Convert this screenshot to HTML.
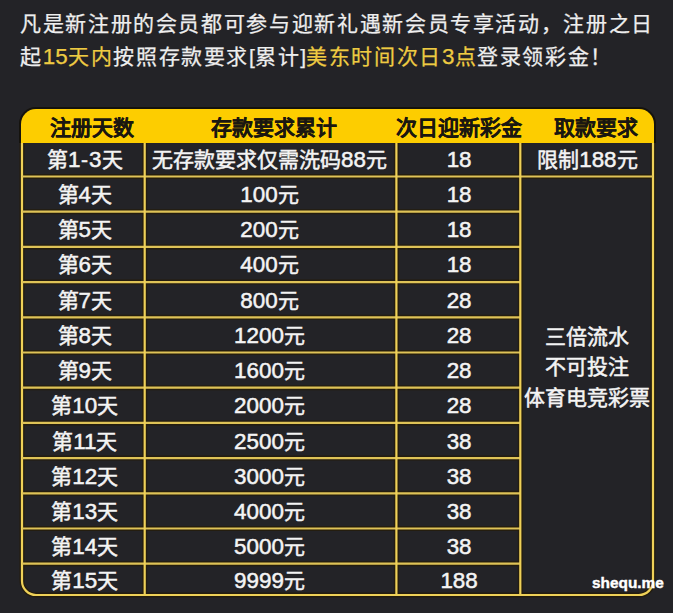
<!DOCTYPE html>
<html lang="zh-CN"><head><meta charset="utf-8">
<style>
html,body{margin:0;padding:0;}
body{width:673px;height:613px;overflow:hidden;background:#232327;position:relative;font-family:"Liberation Sans",sans-serif;color:#f2f2f2;}
.intro{position:absolute;left:20px;font-size:21px;letter-spacing:1.64px;line-height:32px;white-space:nowrap;color:#eeeeee;-webkit-text-stroke:0.25px #eeeeee;}
.intro .n{font-size:22.4px;letter-spacing:0.2px;}
.intro .b{letter-spacing:0;}
.y{color:#eecb42;-webkit-text-stroke:0.25px #eecb42;}
svg{position:absolute;left:0;top:0;}
.t{position:absolute;white-space:nowrap;text-align:center;line-height:34px;height:34px;font-size:21px;color:#f4f4f4;-webkit-text-stroke:0.5px #f4f4f4;}
.n{font-size:22.4px;}
.h{font-weight:bold;color:#1a1710;-webkit-text-stroke:0.1px #1a1710;}
.w{position:absolute;white-space:nowrap;color:#fff;font-weight:bold;font-size:15.4px;-webkit-text-stroke:0.4px #fff;}
</style></head><body>
<div class="intro" style="top:7.8px;">凡是新注册的会员都可参与迎新礼遇新会员专享活动，注册之日</div>
<div class="intro" style="top:40.5px;">起<span class="y"><span class="n">15</span>天内</span>按照存款要求<span class="b">[</span>累计<span class="b">]</span><span class="y">美东时间次日<span class="n">3</span>点</span>登录领彩金！</div>
<svg width="673" height="613" viewBox="0 0 673 613">
<path stroke="#120f08" stroke-width="4" opacity="0.8" fill="none" d="M21 143 L21 124 A15 15 0 0 1 36 109 L639 109 A15 15 0 0 1 654 124 L654 143"/>
<path fill="#fdcd00" d="M21 143 L21 124 A15 15 0 0 1 36 109 L639 109 A15 15 0 0 1 654 124 L654 143 Z"/>
<g stroke-width="5" fill="none" opacity="0.6">
<path stroke="#261a00" d="M22 143 L22 581 A14 14 0 0 0 36 595 L639 595 A14 14 0 0 0 653 581 L653 143"/>
<line stroke="#261a00" x1="22" y1="176.5" x2="653" y2="176.5"/>
<line stroke="#261a00" x1="22" y1="211.7" x2="520.3" y2="211.7"/>
<line stroke="#261a00" x1="22" y1="246.9" x2="520.3" y2="246.9"/>
<line stroke="#261a00" x1="22" y1="282.1" x2="520.3" y2="282.1"/>
<line stroke="#261a00" x1="22" y1="317.3" x2="520.3" y2="317.3"/>
<line stroke="#261a00" x1="22" y1="352.5" x2="520.3" y2="352.5"/>
<line stroke="#261a00" x1="22" y1="387.7" x2="520.3" y2="387.7"/>
<line stroke="#261a00" x1="22" y1="422.9" x2="520.3" y2="422.9"/>
<line stroke="#261a00" x1="22" y1="458.1" x2="520.3" y2="458.1"/>
<line stroke="#261a00" x1="22" y1="493.3" x2="520.3" y2="493.3"/>
<line stroke="#261a00" x1="22" y1="528.5" x2="520.3" y2="528.5"/>
<line stroke="#261a00" x1="22" y1="563.7" x2="520.3" y2="563.7"/>
<line stroke="#261a00" x1="144.7" y1="143" x2="144.7" y2="595"/>
<line stroke="#261a00" x1="396.4" y1="143" x2="396.4" y2="595"/>
<line stroke="#261a00" x1="520.3" y1="143" x2="520.3" y2="595"/>
</g>
<g stroke-width="2.2" fill="none" >
<path stroke="#efd158" d="M22 143 L22 581 A14 14 0 0 0 36 595 L639 595 A14 14 0 0 0 653 581 L653 143"/>
<line stroke="#dfc357" x1="22" y1="176.5" x2="653" y2="176.5"/>
<line stroke="#dfc357" x1="22" y1="211.7" x2="520.3" y2="211.7"/>
<line stroke="#dfc357" x1="22" y1="246.9" x2="520.3" y2="246.9"/>
<line stroke="#dfc357" x1="22" y1="282.1" x2="520.3" y2="282.1"/>
<line stroke="#dfc357" x1="22" y1="317.3" x2="520.3" y2="317.3"/>
<line stroke="#dfc357" x1="22" y1="352.5" x2="520.3" y2="352.5"/>
<line stroke="#dfc357" x1="22" y1="387.7" x2="520.3" y2="387.7"/>
<line stroke="#dfc357" x1="22" y1="422.9" x2="520.3" y2="422.9"/>
<line stroke="#dfc357" x1="22" y1="458.1" x2="520.3" y2="458.1"/>
<line stroke="#dfc357" x1="22" y1="493.3" x2="520.3" y2="493.3"/>
<line stroke="#dfc357" x1="22" y1="528.5" x2="520.3" y2="528.5"/>
<line stroke="#dfc357" x1="22" y1="563.7" x2="520.3" y2="563.7"/>
<line stroke="#efd158" x1="144.7" y1="143" x2="144.7" y2="595"/>
<line stroke="#efd158" x1="396.4" y1="143" x2="396.4" y2="595"/>
<line stroke="#efd158" x1="520.3" y1="143" x2="520.3" y2="595"/>
</g>
</svg>
<div class="t h" style="left:12px;width:160px;top:111px;">注册天数</div>
<div class="t h" style="left:194.39999999999998px;width:160px;top:111px;">存款要求累计</div>
<div class="t h" style="left:379px;width:160px;top:111px;">次日迎新彩金</div>
<div class="t h" style="left:516px;width:160px;top:111px;">取款要求</div>
<div class="t" style="left:-65.2px;width:300px;top:143.2px;">第<span class="n">1</span><span style="padding:0 1px 0 0.5px">-</span><span class="n">3</span>天</div>
<div class="t" style="left:119.5px;width:300px;top:143.2px;">无存款要求仅需洗码<span class="n">88</span>元</div>
<div class="t" style="left:309.1px;width:300px;top:143.2px;"><span class="n">18</span></div>
<div class="t" style="left:437.4px;width:300px;top:143.2px;">限制<span class="n">188</span>元</div>
<div class="t" style="left:-65.2px;width:300px;top:177.7px;">第<span class="n">4</span>天</div>
<div class="t" style="left:119.5px;width:300px;top:177.7px;"><span class="n">100</span>元</div>
<div class="t" style="left:309.1px;width:300px;top:177.7px;"><span class="n">18</span></div>
<div class="t" style="left:-65.2px;width:300px;top:212.9px;">第<span class="n">5</span>天</div>
<div class="t" style="left:119.5px;width:300px;top:212.9px;"><span class="n">200</span>元</div>
<div class="t" style="left:309.1px;width:300px;top:212.9px;"><span class="n">18</span></div>
<div class="t" style="left:-65.2px;width:300px;top:248.2px;">第<span class="n">6</span>天</div>
<div class="t" style="left:119.5px;width:300px;top:248.2px;"><span class="n">400</span>元</div>
<div class="t" style="left:309.1px;width:300px;top:248.2px;"><span class="n">18</span></div>
<div class="t" style="left:-65.2px;width:300px;top:283.5px;">第<span class="n">7</span>天</div>
<div class="t" style="left:119.5px;width:300px;top:283.5px;"><span class="n">800</span>元</div>
<div class="t" style="left:309.1px;width:300px;top:283.5px;"><span class="n">28</span></div>
<div class="t" style="left:-65.2px;width:300px;top:318.8px;">第<span class="n">8</span>天</div>
<div class="t" style="left:119.5px;width:300px;top:318.8px;"><span class="n">1200</span>元</div>
<div class="t" style="left:309.1px;width:300px;top:318.8px;"><span class="n">28</span></div>
<div class="t" style="left:-65.2px;width:300px;top:354.0px;">第<span class="n">9</span>天</div>
<div class="t" style="left:119.5px;width:300px;top:354.0px;"><span class="n">1600</span>元</div>
<div class="t" style="left:309.1px;width:300px;top:354.0px;"><span class="n">28</span></div>
<div class="t" style="left:-65.2px;width:300px;top:389.3px;">第<span class="n">10</span>天</div>
<div class="t" style="left:119.5px;width:300px;top:389.3px;"><span class="n">2000</span>元</div>
<div class="t" style="left:309.1px;width:300px;top:389.3px;"><span class="n">28</span></div>
<div class="t" style="left:-65.2px;width:300px;top:424.6px;">第<span class="n">11</span>天</div>
<div class="t" style="left:119.5px;width:300px;top:424.6px;"><span class="n">2500</span>元</div>
<div class="t" style="left:309.1px;width:300px;top:424.6px;"><span class="n">38</span></div>
<div class="t" style="left:-65.2px;width:300px;top:459.8px;">第<span class="n">12</span>天</div>
<div class="t" style="left:119.5px;width:300px;top:459.8px;"><span class="n">3000</span>元</div>
<div class="t" style="left:309.1px;width:300px;top:459.8px;"><span class="n">38</span></div>
<div class="t" style="left:-65.2px;width:300px;top:495.1px;">第<span class="n">13</span>天</div>
<div class="t" style="left:119.5px;width:300px;top:495.1px;"><span class="n">4000</span>元</div>
<div class="t" style="left:309.1px;width:300px;top:495.1px;"><span class="n">38</span></div>
<div class="t" style="left:-65.2px;width:300px;top:530.4px;">第<span class="n">14</span>天</div>
<div class="t" style="left:119.5px;width:300px;top:530.4px;"><span class="n">5000</span>元</div>
<div class="t" style="left:309.1px;width:300px;top:530.4px;"><span class="n">38</span></div>
<div class="t" style="left:-65.2px;width:300px;top:563.7px;">第<span class="n">15</span>天</div>
<div class="t" style="left:119.5px;width:300px;top:563.7px;"><span class="n">9999</span>元</div>
<div class="t" style="left:309.1px;width:300px;top:563.7px;"><span class="n">188</span></div>
<div class="t" style="left:437px;width:300px;top:319.5px;">三倍流水</div>
<div class="t" style="left:437px;width:300px;top:350px;">不可投注</div>
<div class="t" style="left:437px;width:300px;top:380.8px;">体育电竞彩票</div>
<div class="w" style="left:592px;top:573.5px;">shequ.me</div>
</body></html>
